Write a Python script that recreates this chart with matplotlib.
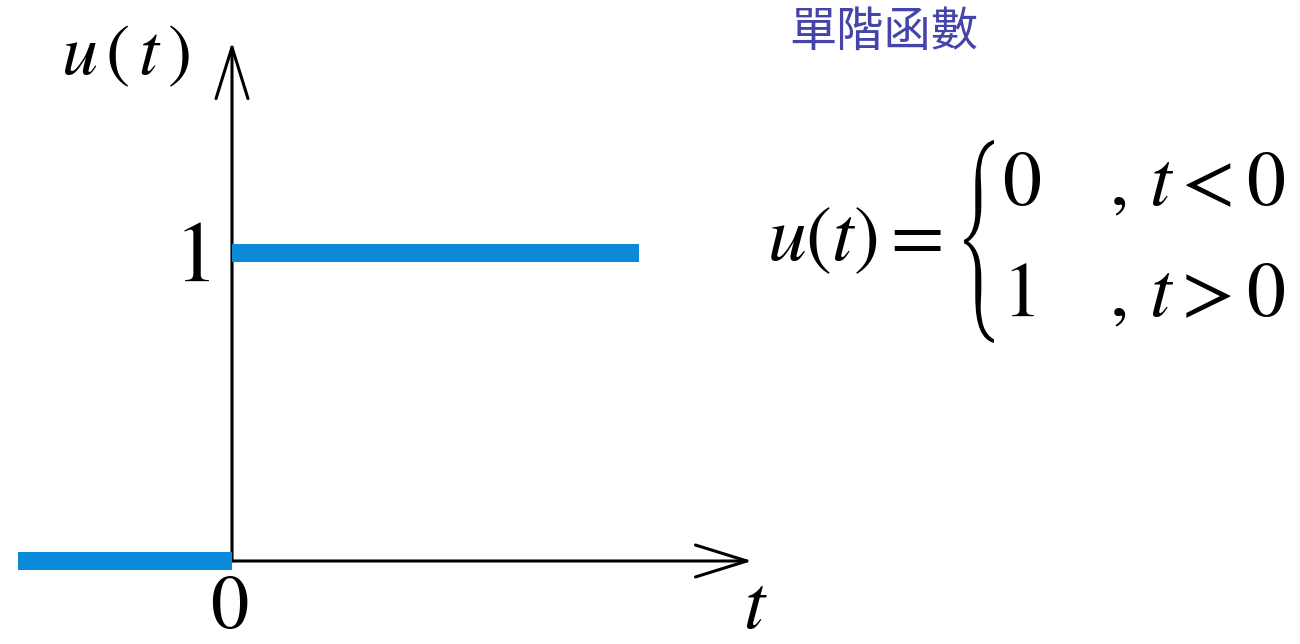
import matplotlib
matplotlib.use('Agg')
import matplotlib.pyplot as plt
from matplotlib.font_manager import FontProperties
from matplotlib.patches import PathPatch
from matplotlib.textpath import TextPath
from matplotlib.transforms import Affine2D

plt.rcParams['mathtext.fontset'] = 'stix'
plt.rcParams['font.family'] = ['Noto Sans CJK TC', 'DejaVu Sans']

# step function u(t)
t_neg = [-1.0, 0.0]
u_neg = [0.0, 0.0]
t_pos = [0.0, 1.9]
u_pos = [1.0, 1.0]

# axis arrow ends
t_axis_end = 2.43
u_axis_end = 1.685

title = '單階函數'
eq_lhs = r'$u(t)=$'
case_values = [r'$0$', r'$1$']
case_conds = [r'$,\,t<0$', r'$,\,t>0$']

step_color = '#0a8ad8'
title_color = '#4444aa'

W, H = 1300, 644
fig = plt.figure(figsize=(W / 100, H / 100), dpi=100)
ax = fig.add_axes([0, 0, 1, 1])
ax.set_xlim(-232 / 214, (W - 232) / 214)
ax.set_ylim(-83 / 308, 561 / 308)
ax.axis('off')

arrow = dict(arrowstyle='->,head_length=3.7,head_width=1.15', lw=2.2,
             color='black', shrinkA=0, shrinkB=0)
ax.annotate('', xy=(t_axis_end, 0), xytext=(0, 0), arrowprops=arrow)
ax.annotate('', xy=(0, u_axis_end), xytext=(0, 0), arrowprops=arrow)

ax.plot(t_neg, u_neg, color=step_color, lw=13, solid_capstyle='butt', zorder=3)
ax.plot(t_pos, u_pos, color=step_color, lw=13, solid_capstyle='butt', zorder=3)

# axis labels
fig.text(0.0962, 0.916, r'$u\,(\,t\,)$', fontsize=52, ha='center', va='center')
fig.text(0.1477, 0.602, r'$\mathrm{1}$', fontsize=62, ha='center', va='center')
fig.text(0.1765, 0.058, r'$\mathrm{0}$', fontsize=55, ha='center', va='center')
fig.text(0.5808, 0.059, r'$t$', fontsize=55, ha='center', va='center')

fig.text(0.607, 0.950, title, fontsize=34, color=title_color,
         ha='left', va='center')

# piecewise definition
fig.text(0.590, 0.5963, eq_lhs, fontsize=56, ha='left', va='baseline')
row_base = [0.6817, 0.5090]
for val, cond, yb in zip(case_values, case_conds, row_base):
    fig.text(0.771, yb, val, fontsize=56, ha='left', va='baseline')
    fig.text(0.853, yb, cond, fontsize=56, ha='left', va='baseline')

# tall thin brace: a STIX brace glyph stretched into its box
brace = TextPath((0, 0), '{', size=100,
                 prop=FontProperties(family='STIXSizeThreeSym'))
bb = brace.get_extents()
bx0, bx1, by_top, by_bot = 964, 994, 140, 343
to_fig = (Affine2D().translate(-bb.x0, -bb.y0)
          .scale((bx1 - bx0) / bb.width / W, (by_bot - by_top) / bb.height / H)
          .translate(bx0 / W, 1 - by_bot / H))
fig.add_artist(PathPatch(to_fig.transform_path(brace), transform=fig.transFigure,
                         facecolor='black', lw=0))

fig.savefig('out.png', dpi=100)
